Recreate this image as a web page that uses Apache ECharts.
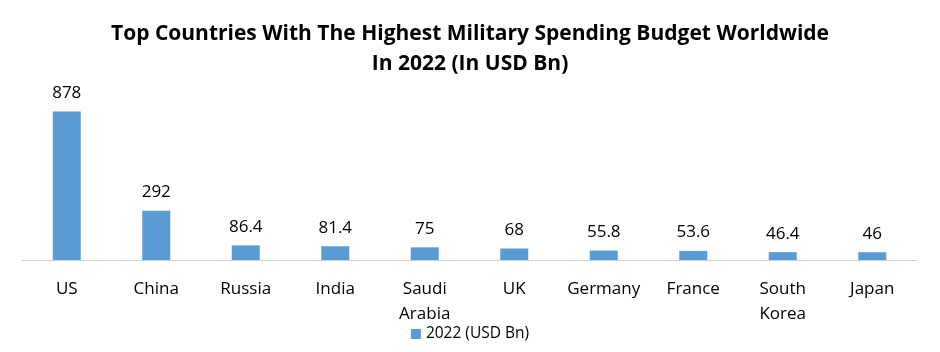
<!DOCTYPE html>
<html>
<head>
<meta charset="utf-8">
<script src="https://cdn.jsdelivr.net/npm/echarts@6/dist/echarts.min.js"></script>
<style>
    html, body { margin: 0; padding: 0; background: #fff; }
    #chart { width: 940px; height: 352px; }
</style>
</head>
<body>
<div id="chart"></div>
<script>
    const countries = ['US', 'China', 'Russia', 'India', 'Saudi\nArabia', 'UK', 'Germany', 'France', 'South\nKorea', 'Japan'];
    const spending = [878, 292, 86.4, 81.4, 75, 68, 55.8, 53.6, 46.4, 46];
    const seriesName = '2022 (USD Bn)';

    const font = '"Open Sans", "Liberation Sans", sans-serif';

    let chart = echarts.init(document.getElementById('chart'));
    chart.setOption({
        animation: false,
        title: {
            text: 'Top Countries With The Highest Military Spending Budget Worldwide\nIn 2022 (In USD Bn)',
            left: 'center',
            top: 14,
            textStyle: {
                fontFamily: font,
                fontSize: 21,
                fontWeight: 'bold',
                color: '#000',
                lineHeight: 30
            }
        },
        legend: {
            bottom: 5,
            left: 'center',
            itemWidth: 10,
            itemHeight: 10,
            itemGap: 6,
            icon: 'rect',
            textStyle: { fontFamily: font, fontSize: 15.5, color: '#000' },
            data: [seriesName]
        },
        grid: { left: 22, right: 23, top: 91, bottom: 92 },
        xAxis: {
            type: 'category',
            data: countries,
            axisLine: { lineStyle: { color: '#d0d0d0' } },
            axisTick: { show: false },
            axisLabel: {
                fontFamily: font,
                fontSize: 17,
                color: '#000',
                margin: 17,
                lineHeight: 25,
                interval: 0
            }
        },
        yAxis: {
            type: 'value',
            min: 0,
            max: 1000,
            show: false,
            splitLine: { show: false }
        },
        series: [{
            name: seriesName,
            type: 'bar',
            data: spending,
            barWidth: 28,
            itemStyle: { color: '#5b9bd5' },
            label: {
                show: true,
                position: 'top',
                distance: 10,
                fontFamily: font,
                fontSize: 17,
                color: '#000'
            }
        }]
    });
</script>
</body>
</html>
